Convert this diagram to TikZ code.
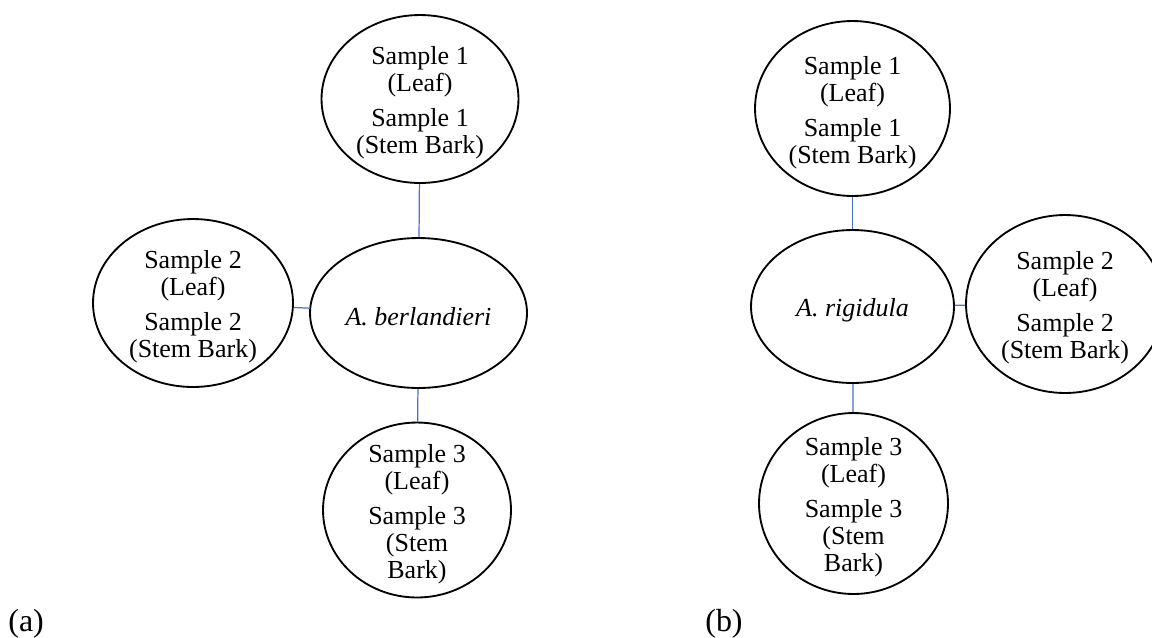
\documentclass[tikz,border=0pt]{standalone}
\usepackage{fontspec}
\setmainfont{Liberation Serif}
\usetikzlibrary{shapes.geometric}
\definecolor{linkblue}{HTML}{4472C4}
\tikzset{
  oval/.style={draw=black, line width=1.05pt, ellipse, inner sep=0pt},
  txt/.style={align=center, inner sep=0pt, yshift=-2.2pt, font=\fontsize{14.8}{15.4}\selectfont},
  link/.style={draw=linkblue, line width=0.7pt},
  tag/.style={anchor=west, inner sep=0pt, font=\fontsize{18.2}{20}\selectfont}
}
\begin{document}
\begin{tikzpicture}[x=0.02cm, y=-0.02cm]
\useasboundingbox (0,0) rectangle (1152,637);

% ---- (a) A. berlandieri ----
\node[oval, minimum width=3.94cm, minimum height=3.36cm] (t1) at (420,99) {};
\node[oval, minimum width=4.00cm, minimum height=3.36cm] (l1) at (193,303) {};
\node[oval, minimum width=4.34cm, minimum height=3.00cm] (c1) at (418.5,313) {};
\node[oval, minimum width=3.76cm, minimum height=3.50cm] (b1) at (417,510) {};

\node[txt] (t1t) at (t1) {Sample 1\\(Leaf)\\[4.5pt]Sample 1\\(Stem Bark)};
\node[txt] (l1t) at (l1) {Sample 2\\(Leaf)\\[4.5pt]Sample 2\\(Stem Bark)};
\node[txt] (c1t) at (c1) {\textit{A. berlandieri}};
\node[txt] (b1t) at (b1) {Sample 3\\(Leaf)\\[4.5pt]Sample 3\\(Stem\\Bark)};

\draw[link] (t1) -- (c1);
\draw[link] (l1) -- (c1);
\draw[link] (c1) -- (b1);

\node[tag] (la) at (8,624) {(a)};

% ---- (b) A. rigidula ----
\node[oval, minimum width=3.90cm, minimum height=3.50cm] (t2) at (852.5,108.5) {};
\node[oval, minimum width=4.06cm, minimum height=3.06cm] (c2) at (852.5,306.5) {};
\node[oval, minimum width=3.96cm, minimum height=3.56cm] (r2) at (1065,304) {};
\node[oval, minimum width=3.78cm, minimum height=3.62cm] (b2) at (853.5,503.5) {};

\node[txt] (t2t) at (t2) {Sample 1\\(Leaf)\\[4.5pt]Sample 1\\(Stem Bark)};
\node[txt] (c2t) at (c2) {\textit{A. rigidula}};
\node[txt] (r2t) at (r2) {Sample 2\\(Leaf)\\[4.5pt]Sample 2\\(Stem Bark)};
\node[txt] (b2t) at (b2) {Sample 3\\(Leaf)\\[4.5pt]Sample 3\\(Stem\\Bark)};

\draw[link] (t2) -- (c2);
\draw[link] (c2) -- (r2);
\draw[link] (c2) -- (b2);

\node[tag] (lb) at (705,624) {(b)};
\end{tikzpicture}
\end{document}
